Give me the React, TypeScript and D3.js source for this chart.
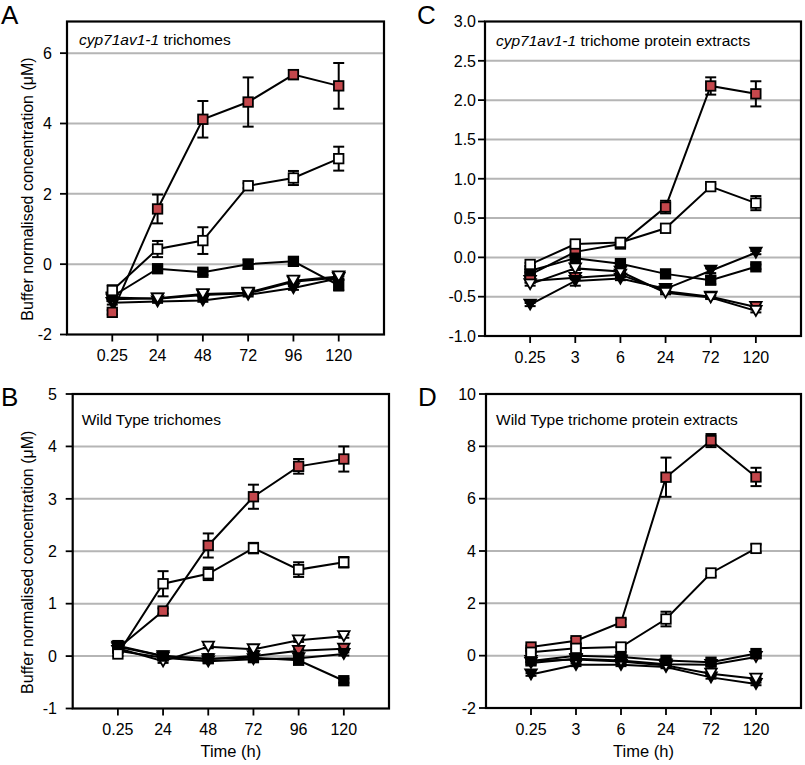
import React from 'react';
import * as d3 from 'd3';

// ---------- Data ----------
const timesAB = ['0.25', '24', '48', '72', '96', '120'];
const timesCD = ['0.25', '3', '6', '24', '72', '120'];

// Panel A: cyp71av1-1 trichomes
const A_redSq = [-1.37, 1.57, 4.12, 4.61, 5.39, 5.07];
const A_redSqErr = [0.06, 0.41, 0.52, 0.7, 0.13, 0.65];
const A_openSq = [-0.75, 0.43, 0.67, 2.23, 2.45, 3.0];
const A_openSqErr = [0.15, 0.23, 0.38, 0.07, 0.2, 0.34];
const A_blackSq = [-0.92, -0.13, -0.23, 0.0, 0.08, -0.6];
const A_blackSqErr = [0.08, 0.07, 0.08, 0.13, 0.1, 0.15];
const A_openTri = [-1.0, -0.97, -0.85, -0.81, -0.47, -0.35];
const A_openTriErr = [0.05, 0.04, 0.05, 0.05, 0.05, 0.06];
const A_blackTri = [-1.1, -1.06, -1.03, -0.87, -0.68, -0.4];
const A_blackTriErr = [0.05, 0.04, 0.04, 0.05, 0.05, 0.05];
const A_redTri = [-0.95, -0.98, -0.88, -0.83, -0.5, -0.38];
const A_redTriErr = [0.04, 0.04, 0.04, 0.04, 0.04, 0.04];

// Panel B: Wild Type trichomes
const B_redSq = [0.15, 0.86, 2.11, 3.04, 3.62, 3.76];
const B_redSqErr = [0.05, 0.05, 0.23, 0.23, 0.14, 0.24];
const B_openSq = [0.04, 1.38, 1.57, 2.06, 1.65, 1.79];
const B_openSqErr = [0.04, 0.24, 0.12, 0.1, 0.14, 0.1];
const B_blackSq = [0.2, 0.0, -0.05, -0.03, -0.08, -0.47];
const B_blackSqErr = [0.05, 0.05, 0.05, 0.05, 0.05, 0.04];
const B_openTri = [0.15, -0.1, 0.18, 0.13, 0.3, 0.38];
const B_openTriErr = [0.03, 0.03, 0.03, 0.03, 0.03, 0.03];
const B_blackTri = [0.1, -0.03, -0.1, -0.06, -0.04, 0.04];
const B_blackTriErr = [0.03, 0.03, 0.03, 0.03, 0.03, 0.03];
const B_redTri = [0.18, 0.0, -0.06, 0.0, 0.1, 0.14];
const B_redTriErr = [0.03, 0.03, 0.03, 0.03, 0.03, 0.03];

// Panel C: cyp71av1-1 trichome protein extracts
const C_redSq = [-0.22, 0.07, 0.17, 0.64, 2.18, 2.08];
const C_redSqErr = [0.03, 0.03, 0.03, 0.08, 0.11, 0.16];
const C_openSq = [-0.09, 0.17, 0.19, 0.37, 0.9, 0.69];
const C_openSqErr = [0.02, 0.03, 0.03, 0.03, 0.03, 0.09];
const C_blackSq = [-0.17, -0.01, -0.08, -0.21, -0.29, -0.12];
const C_blackSqErr = [0.02, 0.02, 0.02, 0.02, 0.05, 0.03];
const C_openTri = [-0.34, -0.14, -0.18, -0.45, -0.51, -0.68];
const C_openTriErr = [0.02, 0.02, 0.02, 0.02, 0.02, 0.02];
const C_blackTri = [-0.6, -0.3, -0.27, -0.4, -0.17, 0.06];
const C_blackTriErr = [0.02, 0.06, 0.02, 0.02, 0.03, 0.02];
const C_redTri = [-0.3, -0.26, -0.22, -0.43, -0.5, -0.63];
const C_redTriErr = [0.02, 0.02, 0.02, 0.02, 0.02, 0.02];

// Panel D: Wild Type trichome protein extracts
const D_redSq = [0.33, 0.57, 1.27, 6.82, 8.22, 6.83];
const D_redSqErr = [0.05, 0.1, 0.12, 0.75, 0.25, 0.35];
const D_openSq = [0.13, 0.28, 0.33, 1.4, 3.16, 4.1];
const D_openSqErr = [0.05, 0.05, 0.05, 0.28, 0.12, 0.15];
const D_blackSq = [-0.2, 0.0, -0.05, -0.18, -0.25, 0.08];
const D_blackSqErr = [0.05, 0.05, 0.05, 0.05, 0.08, 0.08];
const D_openTri = [-0.2, -0.15, -0.22, -0.38, -0.69, -0.88];
const D_openTriErr = [0.05, 0.05, 0.05, 0.05, 0.05, 0.05];
const D_blackTri = [-0.72, -0.35, -0.35, -0.43, -0.83, -1.08];
const D_blackTriErr = [0.05, 0.05, 0.05, 0.05, 0.05, 0.05];
const D_redTri = [-0.28, -0.12, -0.18, -0.33, -0.35, -0.05];
const D_redTriErr = [0.05, 0.05, 0.05, 0.05, 0.05, 0.05];

const yTicksA = [-2, 0, 2, 4, 6];
const yTicksB = [-1, 0, 1, 2, 3, 4, 5];
const yTicksC = [-1.0, -0.5, 0.0, 0.5, 1.0, 1.5, 2.0, 2.5, 3.0];
const yTicksD = [-2, 0, 2, 4, 6, 8, 10];

// ---------- Styles ----------
const RED = '#c4474c';
const FONT = '"Liberation Sans", Arial, Helvetica, sans-serif';
const GRID = '#b5b5b5';

type Shape = 'square' | 'tri';
const styleOf: Record<string, { shape: Shape; fill: string }> = {
  redTri: { shape: 'tri', fill: RED },
  blackTri: { shape: 'tri', fill: '#000' },
  openTri: { shape: 'tri', fill: '#fff' },
  redSq: { shape: 'square', fill: RED },
  blackSq: { shape: 'square', fill: '#000' },
  openSq: { shape: 'square', fill: '#fff' },
};

function makeSeries(v: Record<string, number[]>) {
  return [
    { key: 'redTri', values: v.redTri, err: v.redTriErr },
    { key: 'blackTri', values: v.blackTri, err: v.blackTriErr },
    { key: 'openTri', values: v.openTri, err: v.openTriErr },
    { key: 'redSq', values: v.redSq, err: v.redSqErr },
    { key: 'blackSq', values: v.blackSq, err: v.blackSqErr },
    { key: 'openSq', values: v.openSq, err: v.openSqErr },
  ];
}

const seriesA = makeSeries({
  redSq: A_redSq, redSqErr: A_redSqErr, openSq: A_openSq, openSqErr: A_openSqErr,
  blackSq: A_blackSq, blackSqErr: A_blackSqErr, openTri: A_openTri, openTriErr: A_openTriErr,
  blackTri: A_blackTri, blackTriErr: A_blackTriErr, redTri: A_redTri, redTriErr: A_redTriErr,
});
const seriesB = makeSeries({
  redSq: B_redSq, redSqErr: B_redSqErr, openSq: B_openSq, openSqErr: B_openSqErr,
  blackSq: B_blackSq, blackSqErr: B_blackSqErr, openTri: B_openTri, openTriErr: B_openTriErr,
  blackTri: B_blackTri, blackTriErr: B_blackTriErr, redTri: B_redTri, redTriErr: B_redTriErr,
});
const seriesC = makeSeries({
  redSq: C_redSq, redSqErr: C_redSqErr, openSq: C_openSq, openSqErr: C_openSqErr,
  blackSq: C_blackSq, blackSqErr: C_blackSqErr, openTri: C_openTri, openTriErr: C_openTriErr,
  blackTri: C_blackTri, blackTriErr: C_blackTriErr, redTri: C_redTri, redTriErr: C_redTriErr,
});
const seriesD = makeSeries({
  redSq: D_redSq, redSqErr: D_redSqErr, openSq: D_openSq, openSqErr: D_openSqErr,
  blackSq: D_blackSq, blackSqErr: D_blackSqErr, openTri: D_openTri, openTriErr: D_openTriErr,
  blackTri: D_blackTri, blackTriErr: D_blackTriErr, redTri: D_redTri, redTriErr: D_redTriErr,
});

interface PanelCfg {
  letter: string;
  letterX: number;
  letterY: number;
  left: number;
  right: number;
  top: number;
  bottom: number;
  domain: [number, number];
  ticks: number[];
  fmt: (d: number) => string;
  labelRight: number;
  cats: string[];
  series: ReturnType<typeof makeSeries>;
  titleItalic: string;
  titleRest: string;
  titleX: number;
  titleY: number;
  yTitle: boolean;
  xTitle: boolean;
}

const fmtInt = (d: number) => String(d);
const fmt1 = (d: number) => d.toFixed(1);

const panels: PanelCfg[] = [
  {
    letter: 'A', letterX: 1, letterY: 24,
    left: 67, right: 384, top: 21.5, bottom: 334.5,
    domain: [-2, 6.9], ticks: yTicksA, fmt: fmtInt, labelRight: 52,
    cats: timesAB, series: seriesA,
    titleItalic: 'cyp71av1-1', titleRest: ' trichomes', titleX: 79, titleY: 45,
    yTitle: true, xTitle: false,
  },
  {
    letter: 'C', letterX: 417, letterY: 24,
    left: 485, right: 801, top: 21.5, bottom: 336,
    domain: [-1, 3], ticks: yTicksC, fmt: fmt1, labelRight: 476,
    cats: timesCD, series: seriesC,
    titleItalic: 'cyp71av1-1', titleRest: ' trichome protein extracts', titleX: 496, titleY: 46,
    yTitle: false, xTitle: false,
  },
  {
    letter: 'B', letterX: 1, letterY: 406,
    left: 72.7, right: 389, top: 394, bottom: 708.5,
    domain: [-1, 5], ticks: yTicksB, fmt: fmtInt, labelRight: 57,
    cats: timesAB, series: seriesB,
    titleItalic: '', titleRest: 'Wild Type trichomes', titleX: 81.7, titleY: 425,
    yTitle: true, xTitle: true,
  },
  {
    letter: 'D', letterX: 418, letterY: 406,
    left: 486, right: 801, top: 394, bottom: 708,
    domain: [-2, 10], ticks: yTicksD, fmt: fmtInt, labelRight: 476,
    cats: timesCD, series: seriesD,
    titleItalic: '', titleRest: 'Wild Type trichome protein extracts', titleX: 496, titleY: 425,
    yTitle: false, xTitle: true,
  },
];

function Marker({ shape, fill, x, y }: { shape: Shape; fill: string; x: number; y: number }) {
  if (shape === 'square') {
    const s = 9.5;
    return <rect x={x - s / 2} y={y - s / 2} width={s} height={s} fill={fill} stroke="#000" strokeWidth={1.8} />;
  }
  const w = 11.5, h = 10;
  const p = d3.path();
  p.moveTo(x - w / 2, y - h / 2);
  p.lineTo(x + w / 2, y - h / 2);
  p.lineTo(x, y + h / 2);
  p.closePath();
  return <path d={p.toString()} fill={fill} stroke="#000" strokeWidth={1.8} strokeLinejoin="miter" />;
}

function Panel({ cfg }: { cfg: PanelCfg }) {
  const step = (cfg.right - cfg.left) / 7;
  const x = d3.scalePoint<string>().domain(cfg.cats).range([cfg.left + step, cfg.right - step]);
  const y = d3.scaleLinear().domain(cfg.domain).range([cfg.bottom, cfg.top]);
  const line = d3
    .line<number>()
    .x((_, i) => x(cfg.cats[i]) as number)
    .y((d) => y(d));
  const gridTicks = cfg.ticks.filter((t) => y(t) > cfg.top + 1 && y(t) < cfg.bottom - 1);
  const cap = 5.5;
  return (
    <g>
      <text x={cfg.letterX} y={cfg.letterY} fontSize={26} fontFamily={FONT}>{cfg.letter}</text>
      {gridTicks.map((t) => (
        <line key={'g' + t} x1={cfg.left} x2={cfg.right} y1={y(t)} y2={y(t)} stroke={GRID} strokeWidth={2} />
      ))}
      {/* y ticks */}
      {cfg.ticks.map((t) => (
        <g key={'t' + t}>
          <line x1={cfg.left - 7} x2={cfg.left} y1={y(t)} y2={y(t)} stroke="#000" strokeWidth={1.8} />
          <text x={cfg.labelRight} y={y(t)} dy="0.36em" textAnchor="end" fontSize={16} fontFamily={FONT}>
            {cfg.fmt(t)}
          </text>
        </g>
      ))}
      {/* x ticks */}
      {cfg.cats.map((c) => (
        <g key={'x' + c}>
          <line x1={x(c)} x2={x(c)} y1={cfg.bottom} y2={cfg.bottom + 7} stroke="#000" strokeWidth={1.8} />
          <text x={x(c)} y={cfg.bottom + 26.5} textAnchor="middle" fontSize={16} fontFamily={FONT}>{c}</text>
        </g>
      ))}
      {/* lines */}
      {cfg.series.map((s) => (
        <path key={'l' + s.key} d={line(s.values) as string} fill="none" stroke="#000" strokeWidth={2} />
      ))}
      {/* error bars */}
      {cfg.series.map((s) =>
        s.values.map((v, i) => {
          const cx = x(cfg.cats[i]) as number;
          const y1 = y(v + s.err[i]);
          const y2 = y(v - s.err[i]);
          return (
            <g key={'e' + s.key + i} stroke="#000" strokeWidth={2}>
              <line x1={cx} x2={cx} y1={y1} y2={y2} />
              <line x1={cx - cap} x2={cx + cap} y1={y1} y2={y1} />
              <line x1={cx - cap} x2={cx + cap} y1={y2} y2={y2} />
            </g>
          );
        })
      )}
      {/* markers */}
      {cfg.series.map((s) =>
        s.values.map((v, i) => (
          <Marker key={'m' + s.key + i} shape={styleOf[s.key].shape} fill={styleOf[s.key].fill} x={x(cfg.cats[i]) as number} y={y(v)} />
        ))
      )}
      {/* frame */}
      <rect x={cfg.left} y={cfg.top} width={cfg.right - cfg.left} height={cfg.bottom - cfg.top} fill="none" stroke="#000" strokeWidth={2.2} />
      {/* panel title */}
      <text x={cfg.titleX} y={cfg.titleY} fontSize={15.5} fontFamily={FONT}>
        {cfg.titleItalic ? <tspan fontStyle="italic">{cfg.titleItalic}</tspan> : null}
        <tspan>{cfg.titleRest}</tspan>
      </text>
      {cfg.yTitle ? (
        <text
          transform={`translate(33,${(cfg.top + cfg.bottom) / 2 + 11}) rotate(-90)`}
          textAnchor="middle"
          fontSize={16}
          fontFamily={FONT}
        >
          Buffer normalised concentration (μM)
        </text>
      ) : null}
      {cfg.xTitle ? (
        <text x={(cfg.left + cfg.right) / 2} y={757} textAnchor="middle" fontSize={16.5} fontFamily={FONT}>
          Time (h)
        </text>
      ) : null}
    </g>
  );
}

export default function App() {
  return (
    <div style={{ position: 'absolute', left: 0, top: 0 }}>
      <svg width={805} height={765} style={{ display: 'block', background: '#fff' }}>
        {panels.map((p) => (
          <Panel key={p.letter} cfg={p} />
        ))}
      </svg>
    </div>
  );
}
